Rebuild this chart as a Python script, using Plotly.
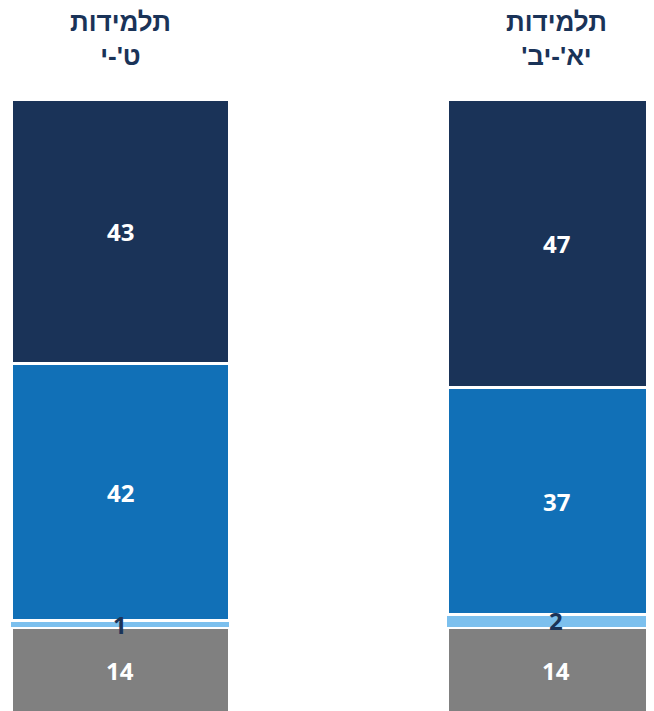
import plotly.graph_objects as go

groups = ["תלמידות<br>ט'-י\u200f", "תלמידות<br>יא'-יב'\u200f"]
x_pos = [0, 1]
series_names = ["gray", "lightblue", "blue", "navy"]
gray_vals = [14, 14]
lightblue_vals = [1, 2]
blue_vals = [42, 37]
navy_vals = [43, 47]

colors = {"gray": "#808080", "lightblue": "#7cc0ee", "blue": "#1170b7", "navy": "#1a3358"}
text_colors = {"gray": "white", "lightblue": "#1a3358", "blue": "white", "navy": "white"}
values = {"gray": gray_vals, "lightblue": lightblue_vals, "blue": blue_vals, "navy": navy_vals}

fig = go.Figure()
for name in series_names:
    fig.add_trace(go.Bar(
        x=x_pos, y=values[name], width=0.5,
        marker=dict(color=colors[name],
                    line=dict(color="white", width=0 if name == "lightblue" else 3)),
        hoverinfo="skip", showlegend=False,
    ))

annotations = []
for i, xp in enumerate(x_pos):
    base = 0
    for name in series_names:
        v = values[name][i]
        annotations.append(dict(
            x=xp, y=base + v / 2, xref="x", yref="y", text=f"<b>{v}</b>",
            showarrow=False, font=dict(family="Open Sans", size=24, color=text_colors[name]),
            yanchor="middle", xanchor="center",
        ))
        base += v
    annotations.append(dict(
        x=xp, y=0.956, xref="x", yref="paper", text=f"<b>{groups[i]}</b>",
        showarrow=False, font=dict(family="Liberation Sans", size=26, color="#1a3358"),
        yanchor="middle", xanchor="center",
    ))

fig.update_layout(
    barmode="stack",
    width=654, height=711,
    margin=dict(l=0, r=0, t=0, b=0),
    paper_bgcolor="white", plot_bgcolor="white",
    xaxis=dict(range=[-0.2569, 1.2431], visible=False, fixedrange=True),
    yaxis=dict(range=[-0.98, 114.88], visible=False, fixedrange=True),
    annotations=annotations,
)
fig.write_html("out.html", config={"displayModeBar": False})
